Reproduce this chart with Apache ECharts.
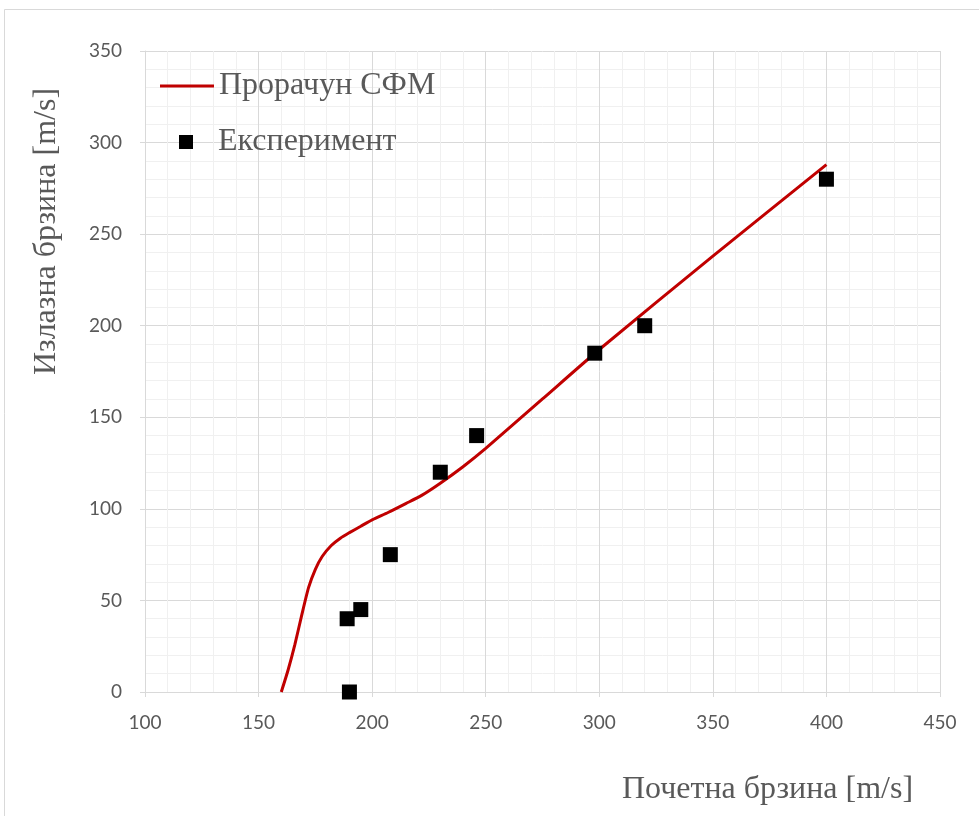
<!DOCTYPE html>
<html>
<head>
<meta charset="utf-8">
<script src="https://cdn.jsdelivr.net/npm/echarts@6/dist/echarts.min.js"></script>
<style>
  html, body { margin: 0; padding: 0; background: #fff; }
  #chart { width: 979px; height: 816px; }
</style>
</head>
<body>
<div id="chart"></div>
<script>
// Computed CFM curve: initial velocity vs exit velocity
const modelX = [160, 163, 166, 169, 172, 175, 178, 182, 186, 190, 195, 200, 207, 215, 222, 230, 240, 250, 275, 300, 350, 400];
const modelY = [0, 12, 26, 42, 57, 67, 74, 80, 84, 87, 90.5, 94, 98, 103, 107.5, 114, 123, 133, 160, 187, 238, 288];

// Experimental measurements
const expX = [189, 195, 190, 208, 230, 246, 298, 320, 400];
const expY = [40, 45, 0, 75, 120, 140, 185, 200, 280];

const modelName = 'Прорачун СФМ';
const expName = 'Експеримент';
const xTitle = 'Почетна брзина [m/s]';
const yTitle = 'Излазна брзина [m/s]';

const serif = '"Liberation Serif", "Times New Roman", serif';
const sans = 'Lato, "Open Sans", sans-serif';
const textGray = '#595959';

const chart = echarts.init(document.getElementById('chart'), null, { renderer: 'canvas' });

chart.setOption({
  backgroundColor: '#ffffff',
  animation: false,
  graphic: [{
    type: 'rect',
    shape: { x: 4.5, y: 9.5, width: 990, height: 820 },
    style: { fill: 'none', stroke: '#d9d9d9', lineWidth: 1 },
    silent: true
  }],
  grid: { left: 145, right: 39, top: 51, bottom: 124 },
  legend: [{
    data: [{ name: modelName, icon: 'rect' }],
    left: 155, top: 65,
    itemWidth: 54, itemHeight: 3,
    textStyle: { fontFamily: serif, fontSize: 32, color: textGray }
  }, {
    data: [{ name: expName, icon: 'rect' }],
    left: 174, top: 121,
    itemWidth: 14, itemHeight: 14,
    textStyle: { fontFamily: serif, fontSize: 32, color: textGray, padding: [0, 0, 0, 20] }
  }],
  xAxis: {
    type: 'value',
    min: 100, max: 450, interval: 50,
    name: xTitle,
    nameLocation: 'middle',
    nameGap: 82,
    nameTextStyle: { fontFamily: serif, fontSize: 32, color: textGray, padding: [0, 0, 0, 450] },
    axisLine: { show: true, lineStyle: { color: '#d9d9d9', width: 1 } },
    axisTick: { show: true, length: 5, lineStyle: { color: '#d9d9d9' } },
    axisLabel: { fontFamily: sans, fontSize: 19, color: textGray, margin: 21 },
    splitLine: { show: true, lineStyle: { color: '#d9d9d9', width: 1 } },
    minorTick: { show: false, splitNumber: 5 },
    minorSplitLine: { show: true, lineStyle: { color: '#f0f0f0', width: 1 } }
  },
  yAxis: {
    type: 'value',
    min: 0, max: 350, interval: 50,
    name: yTitle,
    nameLocation: 'middle',
    nameGap: 82,
    nameRotate: 90,
    nameTextStyle: { fontFamily: serif, fontSize: 32, color: textGray, padding: [0, 0, 0, 280] },
    axisLine: { show: true, lineStyle: { color: '#d9d9d9', width: 1 } },
    axisTick: { show: true, length: 5, lineStyle: { color: '#d9d9d9' } },
    axisLabel: { fontFamily: sans, fontSize: 19, color: textGray, margin: 23 },
    splitLine: { show: true, lineStyle: { color: '#d9d9d9', width: 1 } },
    minorTick: { show: false, splitNumber: 5 },
    minorSplitLine: { show: true, lineStyle: { color: '#f0f0f0', width: 1 } }
  },
  series: [{
    name: modelName,
    type: 'line',
    data: modelX.map((x, i) => [x, modelY[i]]),
    smooth: 0.2,
    symbol: 'none',
    lineStyle: { color: '#c00000', width: 3 },
    itemStyle: { color: '#c00000' },
    z: 2
  }, {
    name: expName,
    type: 'scatter',
    data: expX.map((x, i) => [x, expY[i]]),
    symbol: 'rect',
    symbolSize: 15,
    itemStyle: { color: '#000000', opacity: 1 },
    z: 3
  }]
});
</script>
</body>
</html>
